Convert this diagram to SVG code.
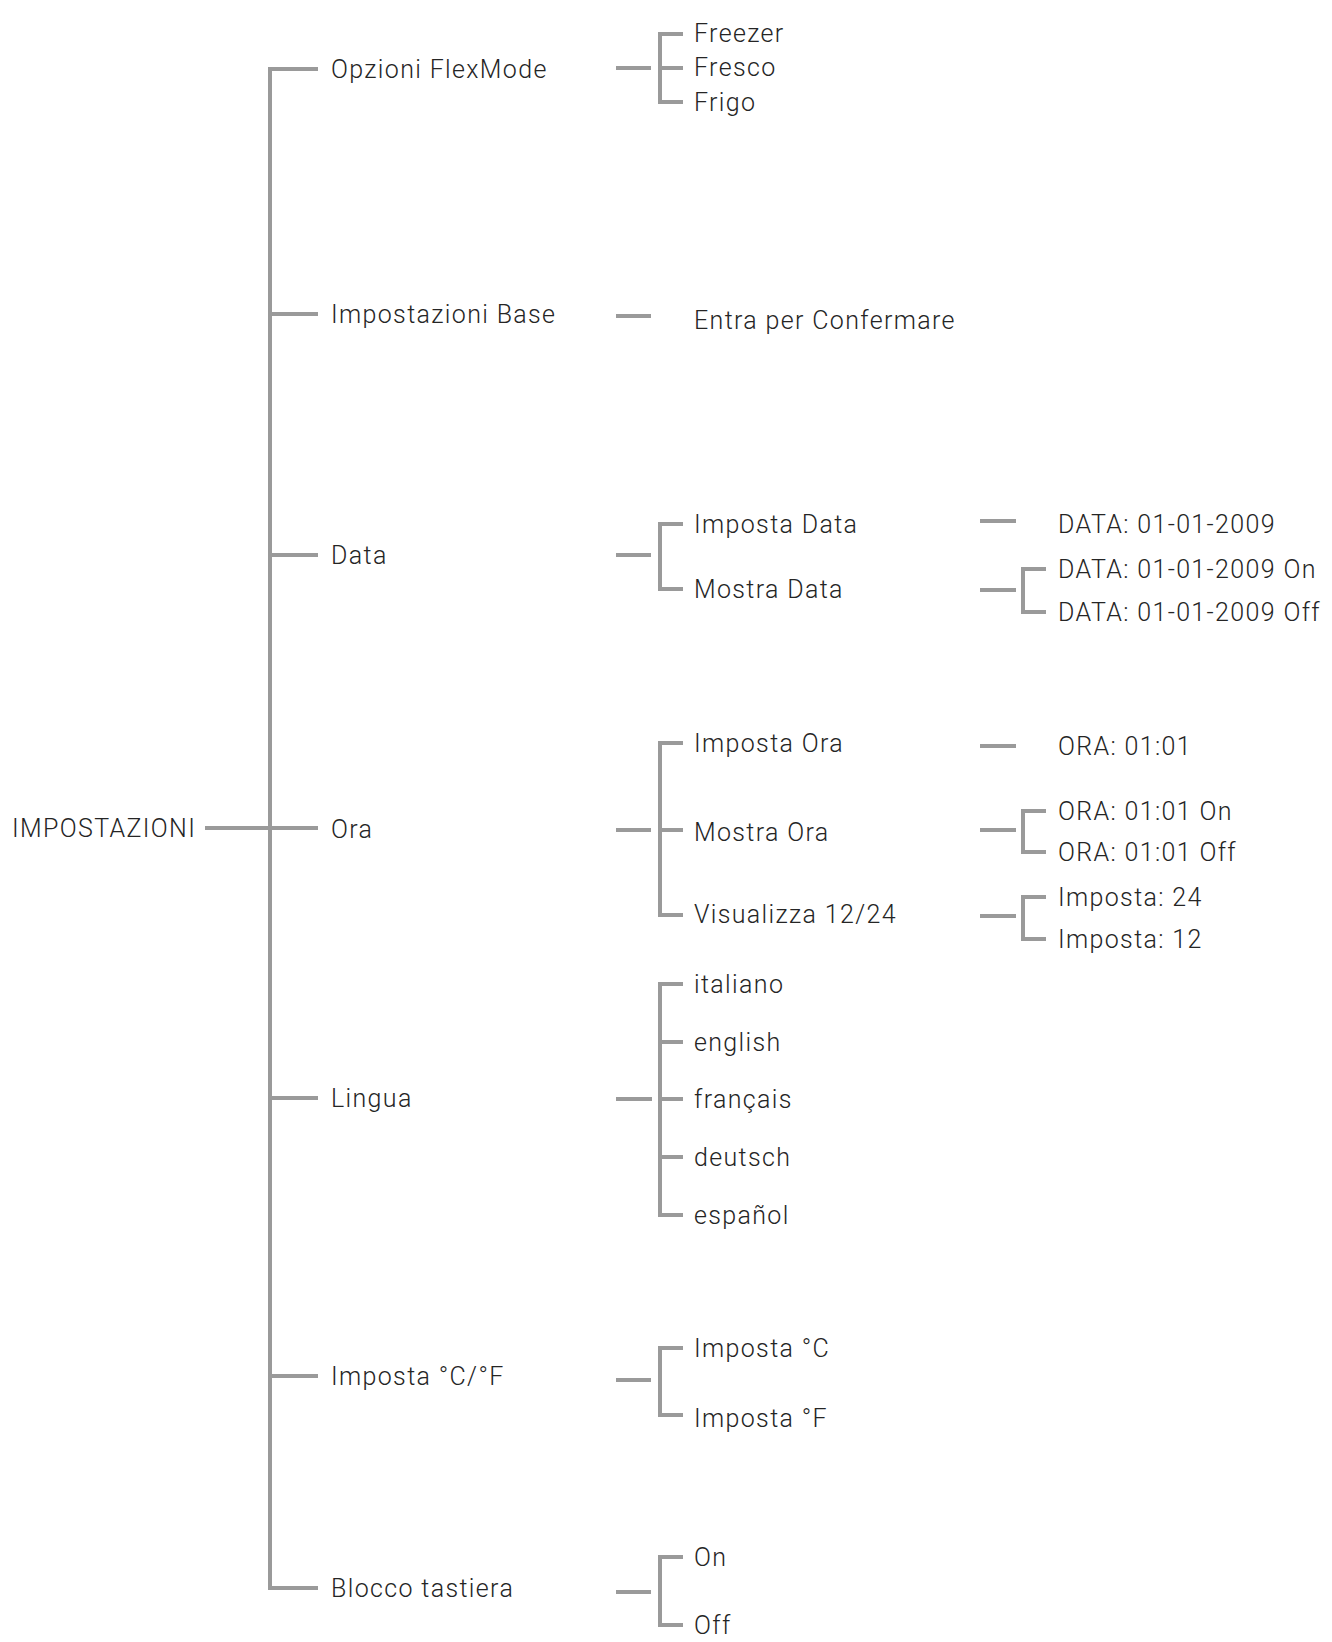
<svg xmlns="http://www.w3.org/2000/svg" width="1332" height="1642" viewBox="0 0 1332 1642">
<style>
text{font-family:Roboto,"Liberation Sans",sans-serif;font-weight:300;font-size:25px;fill:#252525;letter-spacing:1.35px}
.c{fill:none;stroke:#9a9a9a;stroke-width:4;stroke-linecap:butt}
</style>
<rect width="1332" height="1642" fill="#fff"/>
<g id="connectors" class="c">
<path d="M318,69 H270 V1588 H318"/>
<path d="M205,828 H318"/>
<path d="M270,314 H318 M270,555 H318 M270,1098 H318 M270,1376 H318"/>
<path d="M616,68 H651 M683,34 H660 V102 H683 M660,68 H683"/>
<path d="M616,316 H651"/>
<path d="M616,555 H651 M683,524 H660 V589 H683"/>
<path d="M980,521 H1016"/>
<path d="M980,590 H1016 M1046,569 H1023 V612 H1046"/>
<path d="M616,830 H651 M683,743 H660 V915 H683 M660,830 H683"/>
<path d="M980,746 H1016"/>
<path d="M980,830 H1016 M1046,811 H1023 V852 H1046"/>
<path d="M980,916 H1016 M1046,897 H1023 V939 H1046"/>
<path d="M616,1099 H652 M683,984 H660 V1215 H683 M660,1042 H683 M660,1099 H683 M660,1157 H683"/>
<path d="M616,1380 H651 M683,1348 H660 V1415 H683"/>
<path d="M616,1592 H651 M683,1557 H660 V1625 H683"/>
</g>
<g id="n-impostazioni"><text x="12" y="837">IMPOSTAZIONI</text></g>
<g id="n-opzioni"><text x="331" y="78">Opzioni FlexMode</text></g>
<g id="n-freezer"><text x="694" y="42">Freezer</text></g>
<g id="n-fresco"><text x="694" y="76">Fresco</text></g>
<g id="n-frigo"><text x="694" y="111">Frigo</text></g>
<g id="n-base"><text x="331" y="323">Impostazioni Base</text></g>
<g id="n-entra"><text x="694" y="329">Entra per Confermare</text></g>
<g id="n-data"><text x="331" y="564">Data</text></g>
<g id="n-imposta-data"><text x="694" y="533">Imposta Data</text></g>
<g id="n-mostra-data"><text x="694" y="598">Mostra Data</text></g>
<g id="n-data-val"><text x="1058" y="533">DATA: 01-01-2009</text></g>
<g id="n-data-on"><text x="1058" y="578">DATA: 01-01-2009 On</text></g>
<g id="n-data-off"><text x="1058" y="621">DATA: 01-01-2009 Off</text></g>
<g id="n-ora"><text x="331" y="838">Ora</text></g>
<g id="n-imposta-ora"><text x="694" y="752">Imposta Ora</text></g>
<g id="n-mostra-ora"><text x="694" y="841">Mostra Ora</text></g>
<g id="n-visualizza"><text x="694" y="923">Visualizza 12/24</text></g>
<g id="n-ora-val"><text x="1058" y="755">ORA: 01:01</text></g>
<g id="n-ora-on"><text x="1058" y="820">ORA: 01:01 On</text></g>
<g id="n-ora-off"><text x="1058" y="861">ORA: 01:01 Off</text></g>
<g id="n-24"><text x="1058" y="906">Imposta: 24</text></g>
<g id="n-12"><text x="1058" y="948">Imposta: 12</text></g>
<g id="n-lingua"><text x="331" y="1107">Lingua</text></g>
<g id="n-italiano"><text x="694" y="993">italiano</text></g>
<g id="n-english"><text x="694" y="1051">english</text></g>
<g id="n-francais"><text x="694" y="1108">français</text></g>
<g id="n-deutsch"><text x="694" y="1166">deutsch</text></g>
<g id="n-espanol"><text x="694" y="1224">español</text></g>
<g id="n-cf"><text x="331" y="1385">Imposta °C/°F</text></g>
<g id="n-c"><text x="694" y="1357">Imposta °C</text></g>
<g id="n-f"><text x="694" y="1427">Imposta °F</text></g>
<g id="n-blocco"><text x="331" y="1597">Blocco tastiera</text></g>
<g id="n-on"><text x="694" y="1566">On</text></g>
<g id="n-off"><text x="694" y="1634">Off</text></g>
</svg>
